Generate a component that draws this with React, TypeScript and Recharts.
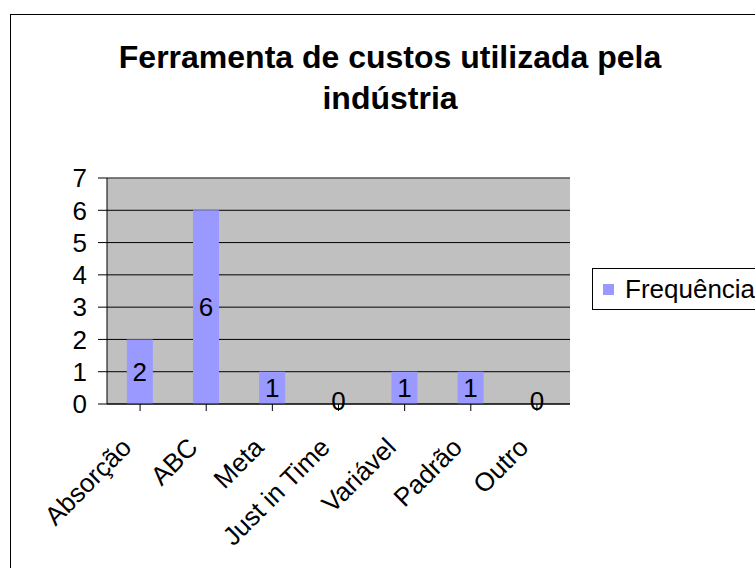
import React from "react"
import {
  ComposedChart,
  Bar,
  Line,
  XAxis,
  YAxis,
  CartesianGrid,
  Legend,
  LabelList,
  ReferenceLine,
} from "recharts"

const categories: string[] = ["Absorção", "ABC", "Meta", "Just in Time", "Variável", "Padrão", "Outro"]
const frequencia: number[] = [2, 6, 1, 0, 1, 1, 0]
const yTicks: number[] = [0, 1, 2, 3, 4, 5, 6, 7]

const data = categories.map((name, i) => ({ name, value: frequencia[i] }))

const FONT = '"Liberation Sans", Arial, sans-serif'

function XTick({ x, y, payload }: any) {
  const ax = x - 7
  const ay = y + 36
  return (
    <text
      x={ax}
      y={ay}
      transform={`rotate(-45, ${ax}, ${ay})`}
      textAnchor="end"
      fontSize={26}
      fontFamily={FONT}
      fill="#000"
    >
      {payload.value}
    </text>
  )
}

function LegendBox() {
  return (
    <div
      style={{
        width: 200,
        height: 42,
        border: "1px solid #000",
        background: "#fff",
        boxSizing: "border-box",
        display: "flex",
        alignItems: "center",
        fontFamily: FONT,
        fontSize: 26,
        color: "#000",
      }}
    >
      <span style={{ display: "inline-block", width: 11, height: 11, background: "#9999FF", marginLeft: 10, marginRight: 11 }} />
      <span>Frequência</span>
    </div>
  )
}

export default function App() {
  return (
    <div style={{ position: "relative", width: 755, height: 568, overflow: "hidden", background: "#fff" }}>
      <style>{`body{margin:0}`}</style>
      <div
        style={{
          position: "absolute",
          left: 10,
          top: 14,
          width: 800,
          height: 600,
          border: "1px solid #000",
        }}
      />
      <div
        style={{
          position: "absolute",
          left: 0,
          width: 780,
          top: 37,
          textAlign: "center",
          fontFamily: FONT,
          fontWeight: "bold",
          fontSize: 32,
          lineHeight: "41px",
          color: "#000",
        }}
      >
        Ferramenta de custos utilizada pela
        <br />
        indústria
      </div>
      <div style={{ position: "absolute", left: 0, top: 0 }}>
        <ComposedChart
          width={755}
          height={568}
          data={data}
          margin={{ top: 178, right: 185, bottom: 104, left: 0 }}
          barCategoryGap="30%"
        >
          <CartesianGrid vertical={false} stroke="#000" fill="#C0C0C0" />
          <XAxis
            dataKey="name"
            interval={0}
            height={60}
            tick={<XTick />}
            tickSize={7}
            axisLine={{ stroke: "#000" }}
            tickLine={{ stroke: "#000" }}
          />
          <YAxis
            yAxisId={0}
            width={107}
            domain={[0, 7]}
            ticks={yTicks}
            interval={0}
            tickSize={9}
            tickMargin={11}
            fontSize={26}
            tick={{ fontSize: 26, fontFamily: FONT, fill: "#000" }}
            axisLine={{ stroke: "#000" }}
            tickLine={{ stroke: "#000" }}
          />
          <YAxis
            yAxisId="right"
            orientation="right"
            width={0}
            domain={[0, 7]}
            tick={false}
            tickLine={false}
            axisLine={{ stroke: "#808080" }}
          />
          <ReferenceLine y={7} stroke="#808080" />
          <Bar dataKey="value" name="Frequência" fill="#9999FF" isAnimationActive={false}>
            <LabelList
              dataKey="value"
              position="center"
              fontSize={26}
              fontFamily={FONT}
              fill="#000"
              formatter={(v: any) => (v === 0 ? "" : v)}
            />
          </Bar>
          <Line
            dataKey="value"
            stroke="none"
            dot={false}
            activeDot={false}
            legendType="none"
            isAnimationActive={false}
          >
            <LabelList
              dataKey="value"
              position="center"
              offset={0}
              dy={-3}
              fontSize={26}
              fontFamily={FONT}
              fill="#000"
              formatter={(v: any) => (v === 0 ? "0" : "")}
            />
          </Line>
          <Legend
            layout="horizontal"
            verticalAlign="middle"
            align="center"
            wrapperStyle={{ left: 592, top: 268, width: 200 }}
            content={<LegendBox />}
          />
        </ComposedChart>
      </div>
    </div>
  )
}
